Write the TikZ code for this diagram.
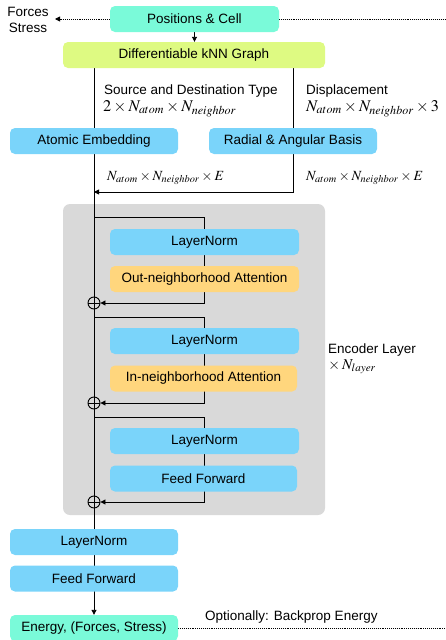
\documentclass[tikz,border=0pt]{standalone}
\usepackage{mathptmx}
\usepackage[no-math]{fontspec}
\setmainfont{Liberation Sans}
\usetikzlibrary{arrows.meta,positioning}
\pgfdeclarelayer{bg}
\pgfdeclarelayer{lines}
\pgfsetlayers{bg,lines,main}
\definecolor{aqua}{RGB}{122,250,217}
\definecolor{lime}{RGB}{222,250,130}
\definecolor{skyb}{RGB}{122,212,250}
\definecolor{orng}{RGB}{255,214,125}
\definecolor{grayb}{RGB}{217,217,217}
\tikzset{
  box/.style={rounded corners=5pt, minimum height=26pt, inner sep=0pt, font=\fontsize{13.5}{16}\selectfont},
  lbl/.style={inner sep=0pt, font=\fontsize{13.5}{16}\selectfont},
  mlbl/.style={inner sep=0pt, font=\fontsize{14}{17}\selectfont},
  mlblbig/.style={inner sep=0pt, font=\fontsize{16.3}{19}\selectfont},
  conn/.style={line width=0.9pt},
  tip/.style={-{Triangle[length=5pt,width=5pt]}},
  dots/.style={line width=0.9pt, densely dotted},
  oplus/.style={circle, draw, line width=0.9pt, minimum size=12pt, inner sep=0pt,
    path picture={\draw[line width=0.9pt] (path picture bounding box.north) -- (path picture bounding box.south)
      (path picture bounding box.west) -- (path picture bounding box.east);}},
}
\begin{document}
\begin{tikzpicture}[x=1pt,y=-1pt]
\useasboundingbox (0,0) rectangle (446,640);
% nodes
\node[box, fill=aqua, minimum width=169pt] (pos) at (194.5,19) {Positions \& Cell};
\node[box, fill=lime, minimum width=262pt] (knn) at (194,55) {Differentiable kNN Graph};
\node[box, fill=skyb, minimum width=168pt] (emb) at (94,141) {Atomic Embedding};
\node[box, fill=skyb, minimum width=168pt] (rab) at (293,141) {Radial \& Angular Basis};
\node[box, fill=skyb, minimum width=189pt] (ln1) at (204.5,242) {LayerNorm};
\node[box, fill=orng, minimum width=189pt] (att1) at (204.5,279) {Out-neighborhood Attention};
\node[box, fill=skyb, minimum width=189pt] (ln2) at (204.5,341) {LayerNorm};
\node[box, fill=orng, minimum width=187pt] (att2) at (203.5,378.5) {In-neighborhood Attention};
\node[box, fill=skyb, minimum width=189pt] (ln3) at (204.5,441) {LayerNorm};
\node[box, fill=skyb, minimum width=187pt] (ff1) at (203.5,478.5) {Feed Forward};
\node[box, fill=skyb, minimum width=168pt] (ln4) at (94,542) {LayerNorm};
\node[box, fill=skyb, minimum width=168pt] (ff2) at (94,578.5) {Feed Forward};
\node[box, fill=aqua, minimum width=168pt] (energy) at (94,628) {Energy, (Forces, Stress)};
\node[oplus] (p1) at (94,303) {};
\node[oplus] (p2) at (94,403) {};
\node[oplus] (p3) at (94,502) {};
% labels
\node[lbl, align=center] (fs) at (28,20) {Forces\\Stress};
\node[lbl, anchor=base west] (srcl) at (104,94.5) {Source and Destination Type};
\node[mlblbig, anchor=base west] (srcm) at (103,111.5) {$2\times N_{atom}\times N_{neighbor}$};
\node[lbl, anchor=base west] (dspl) at (306,94.5) {Displacement};
\node[mlblbig, anchor=base west] (dspm) at (306,111.5) {$N_{atom}\times N_{neighbor}\times 3$};
\node[mlbl, anchor=base west] (em) at (107,180) {$N_{atom}\times N_{neighbor}\times E$};
\node[mlbl, anchor=base west] (rm) at (306,180) {$N_{atom}\times N_{neighbor}\times E$};
\node[lbl, anchor=base west] (enc) at (328,353) {Encoder Layer};
\node[mlbl, font=\fontsize{15}{18}\selectfont, anchor=base west] (encm) at (326,369) {${}\times N_{layer}$};
\node[lbl, anchor=base west] (opt) at (205,620) {Optionally: Backprop Energy};
\coordinate (redge1) at (446,19);
\coordinate (redge2) at (446,628);
\coordinate (fsend) at (55,19);
\coordinate (j0) at (94,192);
\coordinate (b1) at (94,217);
\coordinate (b2) at (94,317);
\coordinate (b3) at (94,417);
% background box
\begin{pgfonlayer}{bg}
\fill[grayb, rounded corners=7pt] (63,204) rectangle (325,515);
\end{pgfonlayer}
% connectors
\begin{pgfonlayer}{lines}
\draw[conn, tip] (pos) -- (pos |- knn.north);
\draw[conn] (knn.south -| emb) -- (p1);
\draw[conn] (p1) -- (p2);
\draw[conn] (p2) -- (p3);
\draw[conn, tip] (p3) -- (energy);
\draw[conn, tip] (knn.south -| rab) -- (rab |- j0) -- (j0);
\draw[conn, tip] (b1) -- (b1 -| ln1) -- (ln1 |- p1) -- (p1);
\draw[conn, tip] (b2) -- (b2 -| ln2) -- (ln2 |- p2) -- (p2);
\draw[conn, tip] (b3) -- (b3 -| ln3) -- (ln3 |- p3) -- (p3);
\draw[dots, tip] (pos) -- (fsend);
\draw[dots] (pos) -- (redge1);
\draw[dots] (energy) -- (redge2);
\end{pgfonlayer}
\end{tikzpicture}
\end{document}
